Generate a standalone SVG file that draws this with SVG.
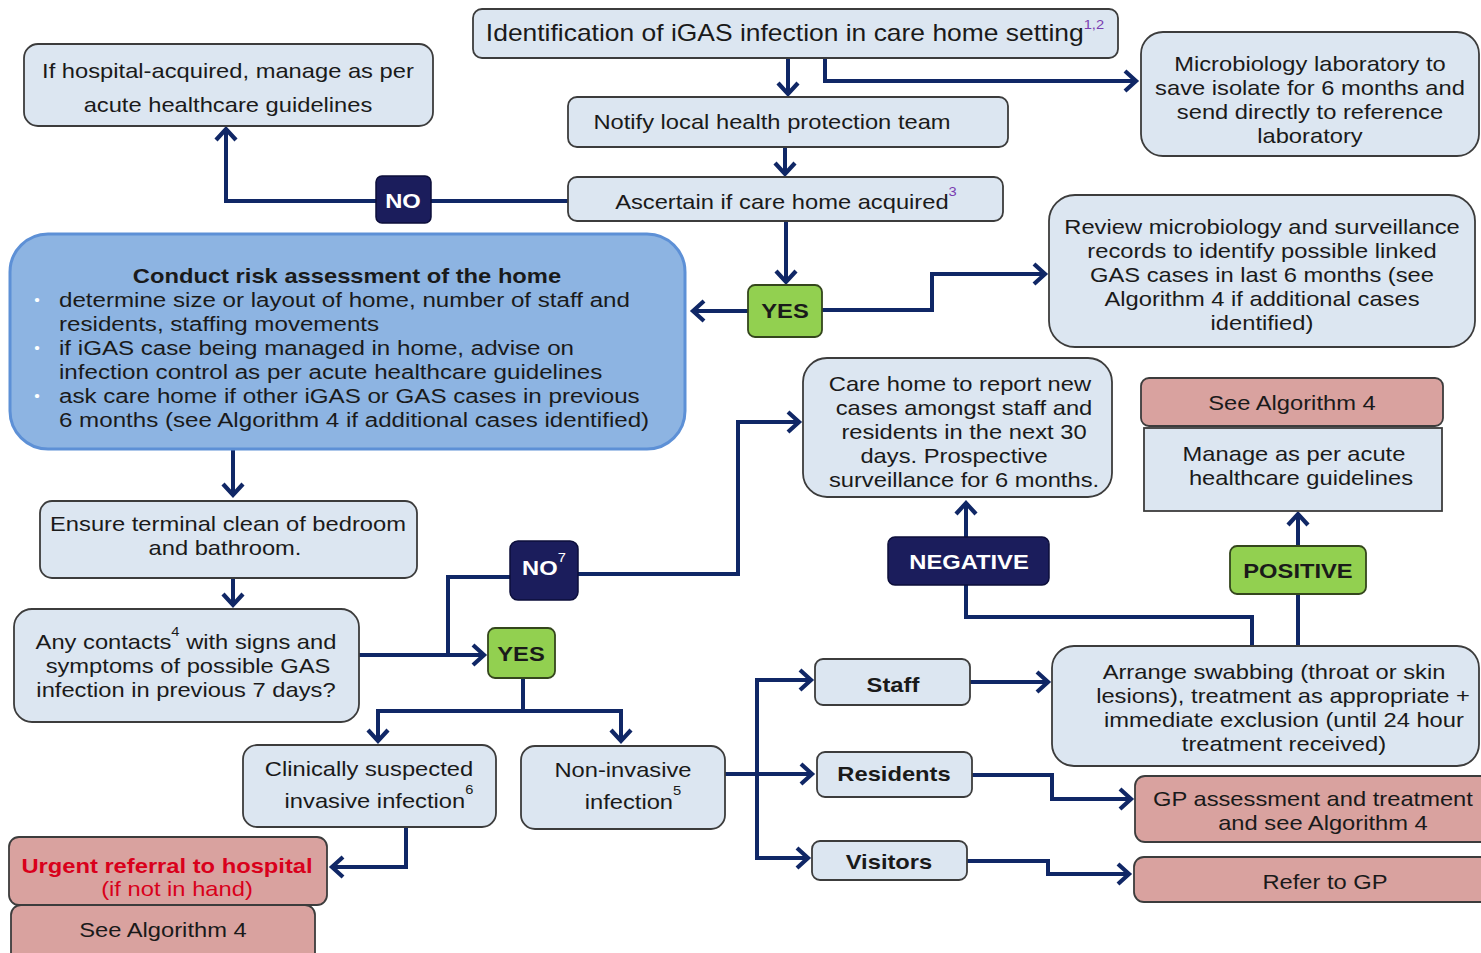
<svg xmlns="http://www.w3.org/2000/svg" width="1481" height="953" viewBox="0 0 1481 953">
  <style>
    text { font-family: "Liberation Sans", Arial, sans-serif; font-size: 21px; fill: #1a1a1a; text-anchor: middle;
           transform-box: fill-box; transform-origin: center; transform: scaleX(1.13); }
    text.l { text-anchor: start; transform-origin: left center; transform: scaleX(1.15); }
    .b { font-weight: bold; }
    .w { fill: #ffffff; }
    .red { fill: #d9001b; }
    .sup { font-size: 13px; }
    .purple { fill: #7a3db0; }
    .box { fill: #dce6f1; stroke: #3c3c3c; stroke-width: 1.8; }
    .pink { fill: #d9a29f; stroke: #3c3c3c; stroke-width: 1.8; }
    .navy { fill: #1b1d5c; stroke: #0c0e3a; stroke-width: 1.5; }
    .green { fill: #92d050; stroke: #34461c; stroke-width: 1.8; }
    .risk { fill: #8db4e2; stroke: #5d90d6; stroke-width: 3; }
    .conn path { fill: none; stroke: #102766; stroke-width: 4; marker-end: url(#ah); }
  </style>
  <defs>
    <marker id="ah" viewBox="-14 -13 18 26" markerWidth="18" markerHeight="26" refX="0" refY="0" orient="auto" markerUnits="userSpaceOnUse">
      <path d="M-11,-10 L0,0 L-11,10" fill="none" stroke="#102766" stroke-width="4.2"/>
    </marker>
  </defs>

  <rect width="1481" height="953" fill="#ffffff"/>

  <!-- connectors -->
  <g id="connectors" class="conn">
    <path d="M788,58 V94"/>
    <path d="M825,58 V81 H1136"/>
    <path d="M785,147 V174"/>
    <path d="M568,201 H226 V129"/>
    <path d="M786,221 V282"/>
    <path d="M748,311 H693"/>
    <path d="M822,310 H932 V274 H1045"/>
    <path d="M233,449 V495"/>
    <path d="M233,578 V605"/>
    <path d="M359,655 H484"/>
    <path d="M448,655 V577 H512" style="marker-end:none"/>
    <path d="M578,574 H738 V422 H799"/>
    <path d="M523,678 V711 H378 V741"/>
    <path d="M523,711 H621 V741"/>
    <path d="M406,827 V867 H332"/>
    <path d="M725,774 H812"/>
    <path d="M757,774 V680 H811"/>
    <path d="M757,774 V858 H808"/>
    <path d="M970,682 H1048"/>
    <path d="M972,775 H1052 V799 H1131"/>
    <path d="M967,861 H1048 V874 H1129"/>
    <path d="M1252,646 V617 H966 V503"/>
    <path d="M1298,646 V514"/>
  </g>

  <!-- nodes -->
  <g id="identification">
    <rect class="box" x="473" y="9" width="645" height="49" rx="9"/>
    <text x="795" y="41" style="font-size:23.4px">Identification of iGAS infection in care home setting<tspan class="sup purple" dy="-12">1,2</tspan></text>
  </g>

  <g id="notify">
    <rect class="box" x="568" y="97" width="440" height="50" rx="9"/>
    <text x="772" y="129">Notify local health protection team</text>
  </g>

  <g id="ascertain">
    <rect class="box" x="568" y="177" width="435" height="44" rx="9"/>
    <text x="786" y="209">Ascertain if care home acquired<tspan class="sup purple" dy="-13">3</tspan></text>
  </g>

  <g id="microbiology">
    <rect class="box" x="1141" y="32" width="338" height="124" rx="22"/>
    <text x="1310" y="71">Microbiology laboratory to</text>
    <text x="1310" y="95">save isolate for 6 months and</text>
    <text x="1310" y="119">send directly to reference</text>
    <text x="1310" y="143">laboratory</text>
  </g>

  <g id="hospital-acquired">
    <rect class="box" x="24" y="44" width="409" height="82" rx="14"/>
    <text x="228" y="78">If hospital-acquired, manage as per</text>
    <text x="228" y="112">acute healthcare guidelines</text>
  </g>

  <g id="label-no-acquired">
    <rect class="navy" x="376" y="176" width="55" height="47" rx="6"/>
    <text class="b w" x="403" y="208">NO</text>
  </g>

  <g id="risk-assessment">
    <rect class="risk" x="10" y="234" width="675" height="215" rx="38"/>
    <text class="b" x="347" y="283">Conduct risk assessment of the home</text>
    <text class="w" x="37" y="305" style="font-size:14px">•</text>
    <text class="l" x="59" y="307">determine size or layout of home, number of staff and</text>
    <text class="l" x="59" y="331">residents, staffing movements</text>
    <text class="w" x="37" y="353" style="font-size:14px">•</text>
    <text class="l" x="59" y="355">if iGAS case being managed in home, advise on</text>
    <text class="l" x="59" y="379">infection control as per acute healthcare guidelines</text>
    <text class="w" x="37" y="401" style="font-size:14px">•</text>
    <text class="l" x="59" y="403">ask care home if other iGAS or GAS cases in previous</text>
    <text class="l" x="59" y="427">6 months (see Algorithm 4 if additional cases identified)</text>
  </g>

  <g id="label-yes-acquired">
    <rect class="green" x="748" y="285" width="74" height="52" rx="7"/>
    <text class="b" x="785" y="318">YES</text>
  </g>

  <g id="review-records">
    <rect class="box" x="1049" y="195" width="426" height="152" rx="26"/>
    <text x="1262" y="234">Review microbiology and surveillance</text>
    <text x="1262" y="258">records to identify possible linked</text>
    <text x="1262" y="282">GAS cases in last 6 months (see</text>
    <text x="1262" y="306">Algorithm 4 if additional cases</text>
    <text x="1262" y="330">identified)</text>
  </g>

  <g id="report-new-cases">
    <rect class="box" x="803" y="358" width="309" height="139" rx="24"/>
    <text x="960" y="391">Care home to report new</text>
    <text x="964" y="415">cases amongst staff and</text>
    <text x="964" y="439">residents in the next 30</text>
    <text x="954" y="463">days. Prospective</text>
    <text x="964" y="487">surveillance for 6 months.</text>
  </g>

  <g id="see-algorithm-right">
    <rect class="pink" x="1141" y="378" width="302" height="48" rx="8"/>
    <text x="1292" y="410">See Algorithm 4</text>
  </g>

  <g id="manage-acute">
    <rect class="box" x="1144" y="428" width="298" height="83"/>
    <text x="1294" y="461">Manage as per acute</text>
    <text x="1301" y="485">healthcare guidelines</text>
  </g>

  <g id="label-negative">
    <rect class="navy" x="888" y="537" width="161" height="48" rx="7"/>
    <text class="b w" x="969" y="569">NEGATIVE</text>
  </g>

  <g id="label-positive">
    <rect class="green" x="1230" y="546" width="136" height="48" rx="7"/>
    <text class="b" x="1298" y="578">POSITIVE</text>
  </g>

  <g id="terminal-clean">
    <rect class="box" x="40" y="501" width="377" height="77" rx="12"/>
    <text x="228" y="531">Ensure terminal clean of bedroom</text>
    <text x="225" y="555">and bathroom.</text>
  </g>

  <g id="any-contacts">
    <rect class="box" x="14" y="609" width="345" height="113" rx="18"/>
    <text x="186" y="649">Any contacts<tspan class="sup" dy="-13">4</tspan><tspan dy="13"> with signs and</tspan></text>
    <text x="188" y="673">symptoms of possible GAS</text>
    <text x="186" y="697">infection in previous 7 days?</text>
  </g>

  <g id="label-no-contacts">
    <rect class="navy" x="510" y="541" width="68" height="59" rx="8"/>
    <text class="b w" x="544" y="575">NO<tspan class="sup w" dy="-13" style="font-weight:normal">7</tspan></text>
  </g>

  <g id="label-yes-contacts">
    <rect class="green" x="488" y="628" width="67" height="50" rx="7"/>
    <text class="b" x="521" y="661">YES</text>
  </g>

  <g id="invasive-infection">
    <rect class="box" x="243" y="745" width="253" height="82" rx="14"/>
    <text x="369" y="776">Clinically suspected</text>
    <text x="379" y="808">invasive infection<tspan class="sup" dy="-14">6</tspan></text>
  </g>

  <g id="non-invasive-infection">
    <rect class="box" x="521" y="746" width="204" height="83" rx="14"/>
    <text x="623" y="777">Non-invasive</text>
    <text x="633" y="809">infection<tspan class="sup" dy="-14">5</tspan></text>
  </g>

  <g id="see-algorithm-left">
    <rect class="pink" x="11" y="905" width="304" height="60" rx="10"/>
    <text x="163" y="937">See Algorithm 4</text>
  </g>

  <g id="urgent-referral">
    <rect class="pink" x="9" y="837" width="318" height="68" rx="10"/>
    <text class="b red" x="167" y="873">Urgent referral to hospital</text>
    <text class="red" x="177" y="896">(if not in hand)</text>
  </g>

  <g id="staff">
    <rect class="box" x="815" y="659" width="155" height="46" rx="8"/>
    <text class="b" x="893" y="692">Staff</text>
  </g>

  <g id="residents">
    <rect class="box" x="817" y="752" width="155" height="45" rx="8"/>
    <text class="b" x="894" y="781">Residents</text>
  </g>

  <g id="visitors">
    <rect class="box" x="812" y="841" width="155" height="39" rx="8"/>
    <text class="b" x="889" y="869">Visitors</text>
  </g>

  <g id="arrange-swabbing">
    <rect class="box" x="1052" y="646" width="427" height="120" rx="22"/>
    <text x="1274" y="679">Arrange swabbing (throat or skin</text>
    <text x="1283" y="703">lesions), treatment as appropriate +</text>
    <text x="1284" y="727">immediate exclusion (until 24 hour</text>
    <text x="1284" y="751">treatment received)</text>
  </g>

  <g id="gp-assessment">
    <rect class="pink" x="1135" y="776" width="360" height="66" rx="10"/>
    <text x="1313" y="806">GP assessment and treatment</text>
    <text x="1323" y="830">and see Algorithm 4</text>
  </g>

  <g id="refer-gp">
    <rect class="pink" x="1134" y="857" width="360" height="45" rx="10"/>
    <text x="1325" y="889">Refer to GP</text>
  </g>
</svg>
